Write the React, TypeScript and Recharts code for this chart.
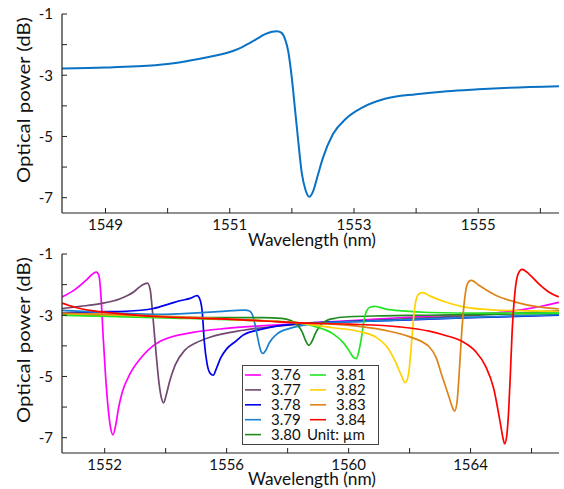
import React from 'react'
import { LineChart, Line, XAxis, YAxis, Legend } from 'recharts'

// panel (a): one spectrum, [wavelength nm, power dB]
const spectrumA: number[][] = [
  [1548.3, -2.78], [1549, -2.75], [1549.5, -2.71], [1550, -2.63], [1550.3, -2.54], [1550.5, -2.47],
  [1550.7, -2.39], [1550.9, -2.3], [1551.05, -2.21], [1551.2, -2.08], [1551.32, -1.95], [1551.45, -1.8],
  [1551.57, -1.66], [1551.68, -1.58], [1551.76, -1.56], [1551.83, -1.61], [1551.89, -1.82], [1551.94, -2.2],
  [1552.0, -3.1], [1552.05, -4.1], [1552.1, -5.1], [1552.16, -6.2], [1552.22, -6.75], [1552.28, -6.97],
  [1552.34, -6.8], [1552.42, -6.25], [1552.5, -5.7], [1552.66, -4.93], [1552.87, -4.42], [1553.14, -4.05],
  [1553.5, -3.77], [1554, -3.62], [1554.5, -3.52], [1555, -3.46], [1555.5, -3.41], [1556.3, -3.36],
]

// panel (b): one spectrum per width (µm)
const w376: number[][] = [
  [1550.6, -2.4], [1551.0, -2.18], [1551.42, -1.83], [1551.62, -1.64], [1551.73, -1.59], [1551.82, -1.74],
  [1551.88, -2.4], [1551.95, -3.7], [1552.03, -5.0], [1552.1, -5.9], [1552.18, -6.6], [1552.27, -6.91],
  [1552.36, -6.6], [1552.46, -6.0], [1552.58, -5.5], [1552.84, -4.9], [1553.27, -4.3], [1553.82, -3.85],
  [1554.9, -3.56], [1556.0, -3.43], [1557.1, -3.35], [1558.4, -3.27], [1559.5, -3.21], [1560.5, -3.15],
  [1561.5, -3.09], [1562.5, -3.04], [1563.5, -2.99], [1564.5, -2.94], [1565.2, -2.89], [1565.8, -2.8],
  [1566.4, -2.69], [1566.9, -2.58],
]
const w377: number[][] = [
  [1550.6, -2.78], [1551.2, -2.71], [1551.86, -2.62], [1552.51, -2.46], [1552.95, -2.24], [1553.22, -2.02],
  [1553.4, -1.95], [1553.49, -2.15], [1553.56, -2.8], [1553.63, -3.6], [1553.7, -4.4], [1553.78, -5.2],
  [1553.86, -5.7], [1553.93, -5.86], [1554.02, -5.6], [1554.12, -5.2], [1554.31, -4.63], [1554.63, -4.14],
  [1555.0, -3.9], [1555.45, -3.72], [1556.54, -3.49], [1557.63, -3.36], [1558.4, -3.29], [1559.5, -3.23],
  [1560.5, -3.18], [1562, -3.11], [1563.5, -3.04], [1565, -2.96], [1566.9, -2.86],
]
const w378: number[][] = [
  [1550.6, -2.92], [1551.6, -2.89], [1552.7, -2.87], [1553.6, -2.78], [1554.15, -2.62], [1554.5, -2.52],
  [1554.8, -2.45], [1555.03, -2.36], [1555.13, -2.5], [1555.2, -2.9], [1555.27, -3.9], [1555.36, -4.6],
  [1555.46, -4.9], [1555.56, -4.96], [1555.66, -4.75], [1555.8, -4.4], [1556.0, -4.1], [1556.3, -3.85],
  [1556.54, -3.65], [1557.08, -3.47], [1557.5, -3.38], [1558.2, -3.29], [1559, -3.24], [1560, -3.21],
  [1562, -3.15], [1564, -3.08], [1566.9, -3.0],
]
const w379: number[][] = [
  [1550.6, -2.84], [1551.5, -2.88], [1552.5, -2.93], [1553.8, -2.97], [1554.9, -2.93], [1555.6, -2.89],
  [1556.2, -2.85], [1556.6, -2.83], [1556.75, -2.86], [1556.85, -3.0], [1556.93, -3.3], [1557.02, -3.75],
  [1557.1, -4.1], [1557.19, -4.25], [1557.28, -4.15], [1557.4, -3.9], [1557.63, -3.63], [1558.07, -3.43],
  [1558.72, -3.29], [1559.5, -3.23], [1560.5, -3.2], [1562, -3.14], [1564, -3.07], [1566.9, -2.98],
]
const w380: number[][] = [
  [1550.6, -2.98], [1552, -3.02], [1554, -3.06], [1556, -3.08], [1557.2, -3.08], [1557.8, -3.1],
  [1558.1, -3.17], [1558.3, -3.3], [1558.48, -3.55], [1558.6, -3.85], [1558.7, -3.98], [1558.8, -3.85],
  [1558.9, -3.62], [1559.04, -3.38], [1559.26, -3.18], [1559.6, -3.09], [1560.0, -3.05], [1561.1, -3.02],
  [1562.6, -3.0], [1564.5, -2.97], [1566.9, -2.94],
]
const w381: number[][] = [
  [1550.6, -3.0], [1552.5, -3.05], [1554.5, -3.1], [1556.5, -3.16], [1558.4, -3.25], [1558.94, -3.38],
  [1559.48, -3.6], [1559.81, -3.88], [1560.03, -4.18], [1560.16, -4.38], [1560.25, -4.42], [1560.33, -4.2],
  [1560.41, -3.8], [1560.5, -3.2], [1560.58, -2.88], [1560.7, -2.74], [1560.85, -2.71], [1561.23, -2.8],
  [1561.77, -2.86], [1562.64, -2.91], [1564.5, -2.93], [1566.9, -2.93],
]
const w382: number[][] = [
  [1550.6, -2.95], [1552.5, -3.0], [1554.5, -3.07], [1556.5, -3.15], [1558.4, -3.26], [1559.48, -3.41],
  [1560.35, -3.53], [1560.9, -3.72], [1561.23, -4.0], [1561.55, -4.55], [1561.72, -4.95], [1561.86, -5.2],
  [1561.96, -4.95], [1562.04, -4.2], [1562.12, -3.2], [1562.2, -2.55], [1562.31, -2.3], [1562.44, -2.26],
  [1562.64, -2.36], [1563.18, -2.57], [1563.73, -2.72], [1564.82, -2.83], [1566.89, -2.87],
]
const w383: number[][] = [
  [1550.6, -2.93], [1552.5, -2.98], [1554.5, -3.05], [1556.5, -3.14], [1558.4, -3.25], [1560.03, -3.33],
  [1561.12, -3.48], [1561.99, -3.7], [1562.64, -4.03], [1562.86, -4.36], [1563.07, -5.0], [1563.29, -5.66],
  [1563.4, -6.0], [1563.48, -6.13], [1563.56, -5.8], [1563.62, -5.0], [1563.7, -3.7], [1563.78, -2.7],
  [1563.86, -2.1], [1563.94, -1.9], [1564.03, -1.86], [1564.27, -2.02], [1564.82, -2.35], [1565.47, -2.57],
  [1566.23, -2.73], [1566.89, -2.79],
]
const w384: number[][] = [
  [1550.6, -2.6], [1551.0, -2.73], [1551.64, -2.86], [1552.73, -2.97], [1553.82, -3.05], [1554.8, -3.09],
  [1556, -3.13], [1557.1, -3.18], [1558.4, -3.25], [1560.03, -3.29], [1561.67, -3.38], [1562.64, -3.52],
  [1563.18, -3.66], [1563.73, -3.86], [1564.16, -4.18], [1564.49, -4.66], [1564.76, -5.4], [1564.98, -6.55],
  [1565.06, -7.0], [1565.12, -7.2], [1565.19, -6.9], [1565.25, -6.1], [1565.31, -4.8], [1565.36, -3.6],
  [1565.45, -2.3], [1565.56, -1.65], [1565.69, -1.5], [1565.9, -1.64], [1566.23, -1.97], [1566.56, -2.24],
  [1566.89, -2.4],
]

const widths = ['3.76', '3.77', '3.78', '3.79', '3.80', '3.81', '3.82', '3.83', '3.84']
const widthData = [w376, w377, w378, w379, w380, w381, w382, w383, w384]
const colors = ['#ff00ff', '#704870', '#0000ee', '#1a80d0', '#1f8c1f', '#22e622', '#ffd200', '#dd8418', '#ff0000']

const ticksYAll = [-7, -6, -5, -4, -3, -2, -1]
const ticksYLabel = [-7, -5, -3, -1]
const ticksXa = [1549, 1550, 1551, 1552, 1553, 1554, 1555, 1556]
const ticksXaLabel = [1549, 1551, 1553, 1555]
const ticksXb = [1552, 1554, 1556, 1558, 1560, 1562, 1564, 1566]
const ticksXbLabel = [1552, 1556, 1560, 1564]

const toPts = (arr: number[][]) => arr.map(p => ({ x: p[0], y: p[1] }))

const FONT = 'Lato, sans-serif'
const tickStyle = { fontFamily: FONT, fontSize: 15, fill: '#111' }

const AxisText = ({ px, py, text, size, rotate, len, anchor }: any) => (
  <text
    x={px}
    y={py}
    fontFamily={FONT}
    fontSize={size}
    fill="#111"
    textAnchor={anchor || 'middle'}
    transform={rotate ? `rotate(-90 ${px} ${py})` : undefined}
    textLength={len}
    lengthAdjust={len ? 'spacingAndGlyphs' : undefined}
  >
    {text}
  </text>
)

// legend drawn from the same name/colour arrays as the lines
const LegendBox = () => (
  <svg width={137} height={80} style={{ display: 'block' }}>
    <rect x={0.5} y={0.5} width={136} height={79} fill="#fff" stroke="#444" />
    {widths.map((w, i) => {
      const cx = i < 5 ? 3 : 68
      const cy = 10 + (i % 5) * 14.9
      return (
        <g key={w}>
          <line x1={cx} x2={cx + 16} y1={cy} y2={cy} stroke={colors[i]} strokeWidth={1.6} />
          <text x={cx + 26} y={cy + 5.3} fontFamily={FONT} fontSize={15} fill="#111">{w}</text>
        </g>
      )
    })}
    <text x={65} y={10 + 4 * 14.9 + 5.3} fontFamily={FONT} fontSize={15} fill="#111">Unit: µm</text>
  </svg>
)

export default function App() {
  const fmt = (lab: number[]) => (v: number) => (lab.includes(v) ? String(v) : '')
  const axisLine = { stroke: '#222', strokeWidth: 1.2 }
  return (
    <div style={{ position: 'absolute', left: 0, top: 0, width: 564, height: 489, background: '#fff' }}>
      <div style={{ position: 'absolute', left: 0, top: 0 }}>
        <LineChart width={564} height={250} margin={{ top: 14, right: 5, bottom: 0, left: 0 }}>
          <XAxis xAxisId="b" type="number" dataKey="x" domain={[1548.3, 1556.3]} allowDataOverflow ticks={ticksXa}
            tickFormatter={fmt(ticksXaLabel)} height={37} tickSize={-5} tickMargin={11} tick={tickStyle}
            axisLine={axisLine} tickLine={{ stroke: '#222' }} interval={0}
            label={<AxisText px={312} py={246} text="Wavelength (nm)" size={16.5} len={128} />} />
          <XAxis xAxisId="t" orientation="top" type="number" dataKey="x" domain={[1548.3, 1556.3]} allowDataOverflow ticks={ticksXa}
            tickFormatter={() => ''} height={0} tickSize={-5} axisLine={axisLine} tickLine={{ stroke: '#222' }} interval={0} />
          <YAxis yAxisId="l" type="number" domain={[-7.5, -1]} allowDataOverflow ticks={ticksYAll}
            tickFormatter={fmt(ticksYLabel)} width={62} tickSize={-5} tickMargin={14} tick={tickStyle}
            axisLine={axisLine} tickLine={{ stroke: '#222' }} interval={0}
            label={<AxisText px={30} py={100} text="Optical power (dB)" size={17} rotate len={166} />} />
          <YAxis yAxisId="r" orientation="right" type="number" domain={[-7.5, -1]} allowDataOverflow ticks={ticksYAll}
            tickFormatter={() => ''} width={0} tickSize={-5} axisLine={axisLine} tickLine={{ stroke: '#222' }} interval={0}
            label={<AxisText px={548} py={204} text="(a)" size={17} anchor="end" />} />
          <Line xAxisId="b" yAxisId="l" data={toPts(spectrumA)} dataKey="y" type="monotone" stroke="#0a72c4"
            strokeWidth={2} dot={false} isAnimationActive={false} />
        </LineChart>
      </div>
      <div style={{ position: 'absolute', left: 0, top: 240 }}>
        <LineChart width={564} height={249} margin={{ top: 14, right: 5, bottom: 0, left: 0 }}>
          <XAxis xAxisId="b" type="number" dataKey="x" domain={[1550.6, 1566.9]} allowDataOverflow ticks={ticksXb}
            tickFormatter={fmt(ticksXbLabel)} height={36} tickSize={-5} tickMargin={11} tick={tickStyle}
            axisLine={axisLine} tickLine={{ stroke: '#222' }} interval={0}
            label={<AxisText px={312} py={245} text="Wavelength (nm)" size={16.5} len={128} />} />
          <XAxis xAxisId="t" orientation="top" type="number" dataKey="x" domain={[1550.6, 1566.9]} allowDataOverflow ticks={ticksXb}
            tickFormatter={() => ''} height={0} tickSize={-5} axisLine={axisLine} tickLine={{ stroke: '#222' }} interval={0} />
          <YAxis yAxisId="l" type="number" domain={[-7.5, -1]} allowDataOverflow ticks={ticksYAll}
            tickFormatter={fmt(ticksYLabel)} width={62} tickSize={-5} tickMargin={14} tick={tickStyle}
            axisLine={axisLine} tickLine={{ stroke: '#222' }} interval={0}
            label={<AxisText px={30} py={100} text="Optical power (dB)" size={17} rotate len={166} />} />
          <YAxis yAxisId="r" orientation="right" type="number" domain={[-7.5, -1]} allowDataOverflow ticks={ticksYAll}
            tickFormatter={() => ''} width={0} tickSize={-5} axisLine={axisLine} tickLine={{ stroke: '#222' }} interval={0}
            label={<AxisText px={548} py={203} text="(b)" size={17} anchor="end" />} />
          {widthData.map((d, i) => (
            <Line key={widths[i]} name={widths[i]} xAxisId="b" yAxisId="l" data={toPts(d)} dataKey="y" type="monotone"
              stroke={colors[i]} strokeWidth={1.7} dot={false} isAnimationActive={false} />
          ))}
          <Legend layout="horizontal" verticalAlign="middle" align="center" content={<LegendBox />}
            wrapperStyle={{ position: 'absolute', left: 242, top: 125, width: 137, height: 80 }} />
        </LineChart>
      </div>
    </div>
  )
}
